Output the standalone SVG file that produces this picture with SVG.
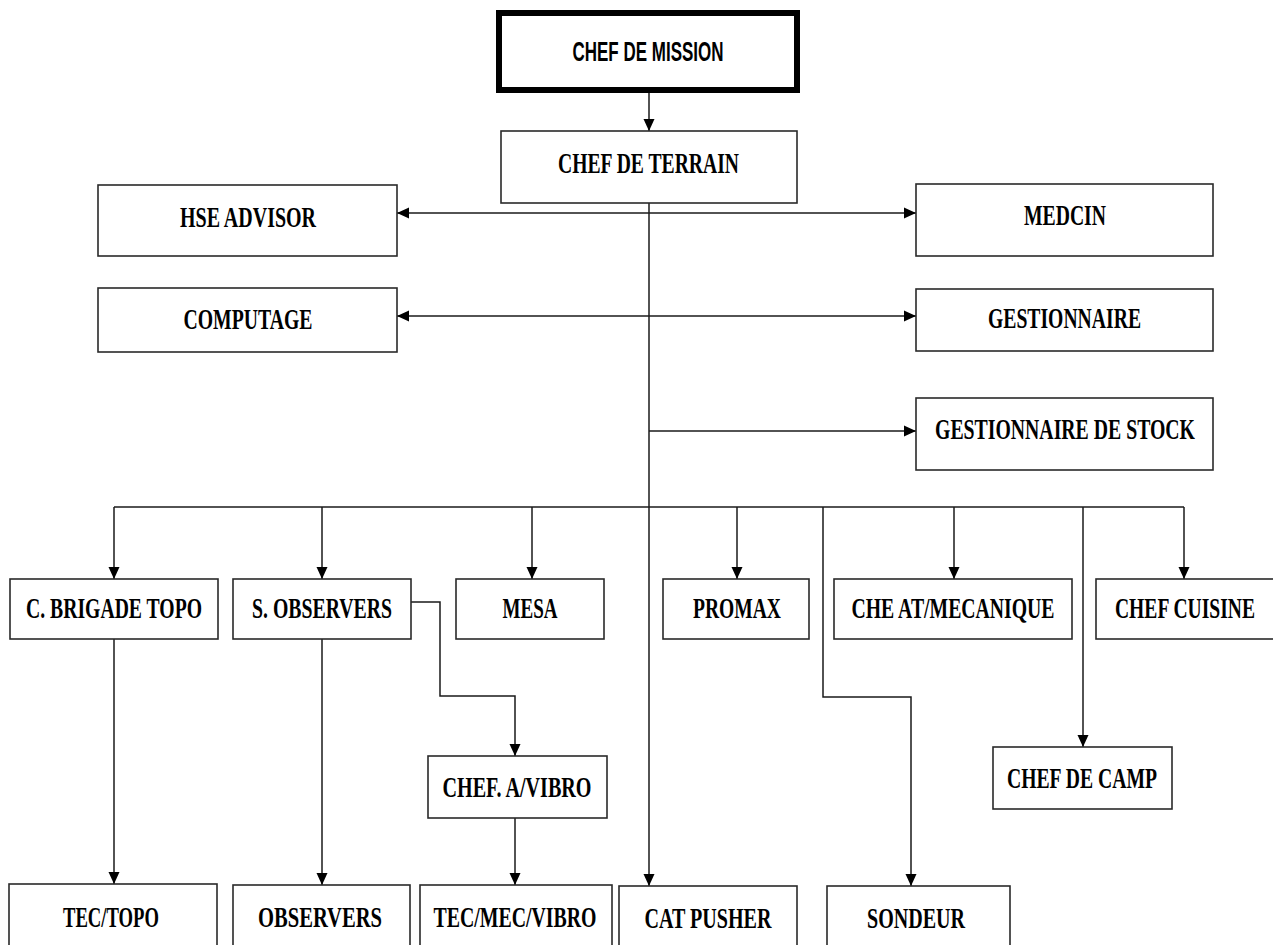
<svg xmlns="http://www.w3.org/2000/svg" width="1273" height="945" viewBox="0 0 1273 945">
<style>
.box{fill:#fff;stroke:#2a2a2a;stroke-width:1.6}
.thick{fill:#fff;stroke:#000;stroke-width:6}
.t{font-family:"Liberation Serif","Times New Roman",serif;font-weight:bold;font-size:29px;fill:#000;text-anchor:middle}
.s{font-family:"Liberation Sans",Arial,sans-serif;font-weight:bold;font-size:27px;fill:#000;text-anchor:middle}
.c{fill:none;stroke:#1a1a1a;stroke-width:1.5}
</style>
<defs>
<marker id="ah" markerUnits="userSpaceOnUse" markerWidth="12" markerHeight="14" viewBox="0 0 12 14" refX="12" refY="7" orient="auto-start-reverse">
<path d="M0,1.5 L12,7 L0,12.5 Z" fill="#000"/>
</marker>
</defs>
<g id="connectors">
<path class="c" d="M649,93 V131" marker-end="url(#ah)"/>
<path class="c" d="M649,203 V886" marker-end="url(#ah)"/>
<path class="c" d="M397,213 H916" marker-start="url(#ah)" marker-end="url(#ah)"/>
<path class="c" d="M397,316 H916" marker-start="url(#ah)" marker-end="url(#ah)"/>
<path class="c" d="M649,431 H916" marker-end="url(#ah)"/>
<path class="c" d="M114,507 H1184"/>
<path class="c" d="M114,507 V579" marker-end="url(#ah)"/>
<path class="c" d="M322,507 V579" marker-end="url(#ah)"/>
<path class="c" d="M532,507 V579" marker-end="url(#ah)"/>
<path class="c" d="M737,507 V579" marker-end="url(#ah)"/>
<path class="c" d="M954,507 V579" marker-end="url(#ah)"/>
<path class="c" d="M1184,507 V579" marker-end="url(#ah)"/>
<path class="c" d="M114,639 V884" marker-end="url(#ah)"/>
<path class="c" d="M322,639 V885" marker-end="url(#ah)"/>
<path class="c" d="M411,602 H440 V696 H515 V756" marker-end="url(#ah)"/>
<path class="c" d="M515,818 V885" marker-end="url(#ah)"/>
<path class="c" d="M823,507 V697 H911 V886" marker-end="url(#ah)"/>
<path class="c" d="M1083,507 V747" marker-end="url(#ah)"/>
</g>
<g id="chef-de-mission"><rect class="thick" x="499" y="13" width="298" height="77"/><text class="s" x="648" y="61" textLength="151" lengthAdjust="spacingAndGlyphs">CHEF DE MISSION</text></g>
<g id="chef-de-terrain"><rect class="box" x="501" y="131" width="296" height="72"/><text class="t" x="648.5" y="173" textLength="181" lengthAdjust="spacingAndGlyphs">CHEF DE TERRAIN</text></g>
<g id="hse-advisor"><rect class="box" x="98" y="185" width="299" height="71"/><text class="t" x="248" y="227" textLength="136" lengthAdjust="spacingAndGlyphs">HSE ADVISOR</text></g>
<g id="computage"><rect class="box" x="98" y="288" width="299" height="64"/><text class="t" x="248" y="329" textLength="129" lengthAdjust="spacingAndGlyphs">COMPUTAGE</text></g>
<g id="medcin"><rect class="box" x="916" y="184" width="297" height="72"/><text class="t" x="1065" y="225" textLength="82" lengthAdjust="spacingAndGlyphs">MEDCIN</text></g>
<g id="gestionnaire"><rect class="box" x="916" y="289" width="297" height="62"/><text class="t" x="1064.5" y="328" textLength="153" lengthAdjust="spacingAndGlyphs">GESTIONNAIRE</text></g>
<g id="gestionnaire-de-stock"><rect class="box" x="916" y="398" width="297" height="72"/><text class="t" x="1065" y="439" textLength="260" lengthAdjust="spacingAndGlyphs">GESTIONNAIRE DE STOCK</text></g>
<g id="c-brigade-topo"><rect class="box" x="10" y="579" width="208" height="60"/><text class="t" x="114" y="618" textLength="176" lengthAdjust="spacingAndGlyphs">C. BRIGADE TOPO</text></g>
<g id="s-observers"><rect class="box" x="233" y="579" width="178" height="60"/><text class="t" x="322" y="618" textLength="140" lengthAdjust="spacingAndGlyphs">S. OBSERVERS</text></g>
<g id="mesa"><rect class="box" x="456" y="579" width="148" height="60"/><text class="t" x="530" y="618" textLength="55" lengthAdjust="spacingAndGlyphs">MESA</text></g>
<g id="promax"><rect class="box" x="663" y="579" width="146" height="60"/><text class="t" x="737" y="618" textLength="88" lengthAdjust="spacingAndGlyphs">PROMAX</text></g>
<g id="che-at-mecanique"><rect class="box" x="834" y="579" width="238" height="60"/><text class="t" x="953" y="618" textLength="203" lengthAdjust="spacingAndGlyphs">CHE AT/MECANIQUE</text></g>
<g id="chef-cuisine"><rect class="box" x="1096" y="579" width="200" height="60"/><text class="t" x="1185" y="618" textLength="140" lengthAdjust="spacingAndGlyphs">CHEF CUISINE</text></g>
<g id="chef-a-vibro"><rect class="box" x="428" y="756" width="179" height="62"/><text class="t" x="517" y="797" textLength="149" lengthAdjust="spacingAndGlyphs">CHEF. A/VIBRO</text></g>
<g id="chef-de-camp"><rect class="box" x="993" y="747" width="179" height="62"/><text class="t" x="1082" y="788" textLength="150" lengthAdjust="spacingAndGlyphs">CHEF DE CAMP</text></g>
<g id="tec-topo"><rect class="box" x="9" y="884" width="208" height="80"/><text class="t" x="111" y="927" textLength="96" lengthAdjust="spacingAndGlyphs">TEC/TOPO</text></g>
<g id="observers"><rect class="box" x="233" y="885" width="177" height="80"/><text class="t" x="320" y="927" textLength="124" lengthAdjust="spacingAndGlyphs">OBSERVERS</text></g>
<g id="tec-mec-vibro"><rect class="box" x="420" y="885" width="192" height="80"/><text class="t" x="515" y="927" textLength="163" lengthAdjust="spacingAndGlyphs">TEC/MEC/VIBRO</text></g>
<g id="cat-pusher"><rect class="box" x="619" y="886" width="178" height="80"/><text class="t" x="708" y="928" textLength="127" lengthAdjust="spacingAndGlyphs">CAT PUSHER</text></g>
<g id="sondeur"><rect class="box" x="827" y="886" width="183" height="80"/><text class="t" x="916" y="928" textLength="98" lengthAdjust="spacingAndGlyphs">SONDEUR</text></g>
</svg>
